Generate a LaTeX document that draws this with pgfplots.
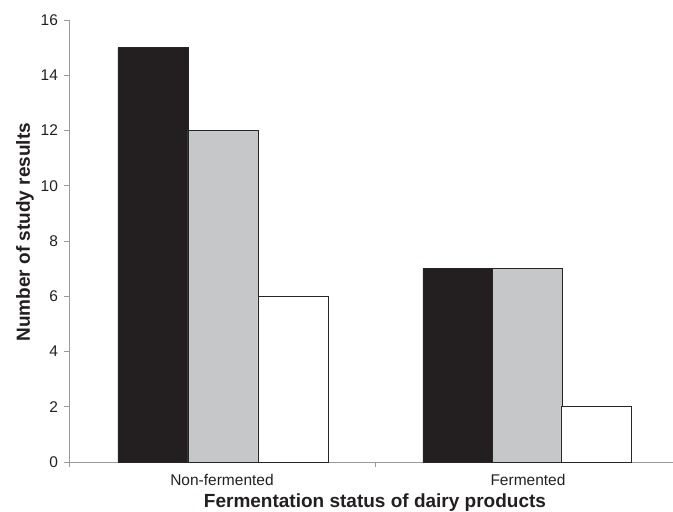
\documentclass[border=0pt]{standalone}
\usepackage{fontspec}
\setmainfont{Liberation Sans}
\usepackage{pgfplots}
\pgfplotsset{compat=1.18}
\definecolor{barblack}{HTML}{231F20}
\definecolor{bargray}{HTML}{C6C7C9}
\definecolor{axgray}{HTML}{9A9A9A}
\definecolor{txt}{HTML}{231F20}
\begin{document}
\begin{tikzpicture}
\useasboundingbox (-69pt,-50pt) rectangle (604pt,462pt);
\begin{axis}[
  scale only axis, width=612pt, height=442pt,
  xmin=-0.5, xmax=1.5, ymin=0, ymax=16,
  axis x line*=bottom, axis y line*=left,
  axis line style={axgray, line width=0.8pt},
  ytick={0,2,...,16},
  xtick={0,1}, xticklabels={Non-fermented,Fermented},
  minor xtick={-0.5,0.5,1.5},
  tick align=outside,
  major tick length=5pt, minor tick length=5pt,
  major x tick style={draw=none},
  minor x tick style={axgray, line width=0.8pt},
  major y tick style={axgray, line width=0.8pt},
  /pgf/number format/assume math mode=true,
  tick label style={font=\fontsize{15.5}{18}\selectfont, text=txt},
  yticklabel style={xshift=-2.5pt},
  xticklabel style={yshift=-4pt},
  xlabel={Fermentation status of dairy products},
  ylabel={Number of study results},
  label style={font=\fontsize{19}{23}\selectfont\bfseries, text=txt},
  xlabel style={at={(axis description cs:0.5,-0.092)}, anchor=center},
  ylabel style={at={(axis description cs:-0.072,0.52)}, anchor=center},
]
\addplot[ybar, bar width=0.229, bar shift=0pt, fill=barblack, draw=black!85, line width=0.6pt] coordinates {(-0.226,15) (0.771,7)};
\addplot[ybar, bar width=0.229, bar shift=0pt, fill=bargray, draw=black!85, line width=0.6pt] coordinates {(0.003,12) (0.998,7)};
\addplot[ybar, bar width=0.229, bar shift=0pt, fill=white, draw=black!85, line width=0.6pt] coordinates {(0.232,6) (1.222,2)};
\end{axis}
\end{tikzpicture}
\end{document}
